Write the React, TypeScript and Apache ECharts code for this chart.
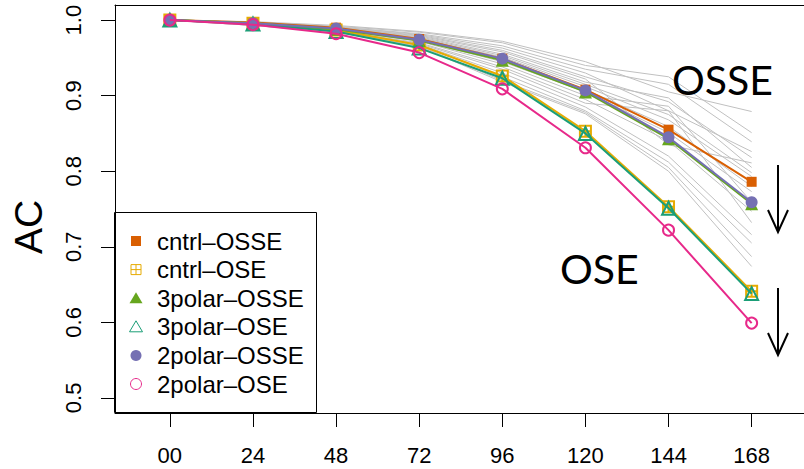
import React, { useEffect, useRef } from "react";
import * as echarts from "echarts";

const hours = ["00", "24", "48", "72", "96", "120", "144", "168"];
const yTicks = [0.5, 0.6, 0.7, 0.8, 0.9, 1.0];

const seriesNames = [
  "cntrl–OSSE",
  "cntrl–OSE",
  "3polar–OSSE",
  "3polar–OSE",
  "2polar–OSSE",
  "2polar–OSE",
];
const seriesColors = ["#D95F02", "#E6AB02", "#66A61E", "#1B9E77", "#7570B3", "#E7298A"];

const cntrlOSSE = [1.0, 0.997, 0.990, 0.975, 0.949, 0.908, 0.855, 0.786];
const cntrlOSE = [1.0, 0.996, 0.987, 0.967, 0.926, 0.853, 0.753, 0.641];
const polar3OSSE = [1.0, 0.996, 0.988, 0.973, 0.947, 0.905, 0.843, 0.757];
const polar3OSE = [1.0, 0.995, 0.985, 0.963, 0.923, 0.850, 0.751, 0.638];
const polar2OSSE = [1.0, 0.996, 0.989, 0.974, 0.949, 0.907, 0.845, 0.759];
const polar2OSE = [1.0, 0.994, 0.982, 0.957, 0.909, 0.831, 0.722, 0.599];

// ensemble members (gray)
const members = [
  [1.0, 0.998, 0.993, 0.985, 0.972, 0.945, 0.905, 0.879],
  [1.0, 0.997, 0.992, 0.984, 0.970, 0.940, 0.925, 0.851],
  [1.0, 0.997, 0.991, 0.982, 0.966, 0.935, 0.915, 0.839],
  [1.0, 0.997, 0.991, 0.981, 0.963, 0.930, 0.880, 0.826],
  [1.0, 0.996, 0.990, 0.980, 0.960, 0.925, 0.892, 0.818],
  [1.0, 0.996, 0.990, 0.979, 0.958, 0.922, 0.835, 0.811],
  [1.0, 0.996, 0.989, 0.978, 0.955, 0.918, 0.897, 0.805],
  [1.0, 0.996, 0.989, 0.977, 0.953, 0.915, 0.875, 0.798],
  [1.0, 0.995, 0.988, 0.976, 0.951, 0.912, 0.868, 0.793],
  [1.0, 0.995, 0.988, 0.975, 0.948, 0.908, 0.859, 0.780],
  [1.0, 0.995, 0.987, 0.973, 0.945, 0.905, 0.851, 0.773],
  [1.0, 0.995, 0.987, 0.972, 0.942, 0.900, 0.886, 0.759],
  [1.0, 0.994, 0.986, 0.970, 0.938, 0.895, 0.840, 0.747],
  [1.0, 0.994, 0.986, 0.969, 0.935, 0.890, 0.880, 0.732],
  [1.0, 0.994, 0.985, 0.968, 0.930, 0.885, 0.820, 0.716],
  [1.0, 0.993, 0.985, 0.967, 0.925, 0.880, 0.812, 0.705],
  [1.0, 0.993, 0.984, 0.966, 0.920, 0.878, 0.805, 0.687],
  [1.0, 0.993, 0.984, 0.965, 0.918, 0.876, 0.800, 0.674],
];

const mainData = [cntrlOSSE, cntrlOSE, polar3OSSE, polar3OSE, polar2OSSE, polar2OSE];

const boxPlus = "path://M0,0L10,0L10,10L0,10Z M5,0L5,10 M0,5L10,5";
const symbols = ["rect", boxPlus, "triangle", "triangle", "circle", "circle"];
const filled = [true, false, true, false, true, false];
const symSizes = [10, 11, 13, 13, 12, 11];

const FONT = "'Liberation Sans', Arial, Helvetica, sans-serif";

export default function App() {
  const ref = useRef<HTMLDivElement>(null);
  useEffect(() => {
    if (!ref.current) return;
    document.body.style.margin = "0";
    const chart = echarts.init(ref.current, undefined, { renderer: "svg" });

    const series: any[] = [];
    members.forEach((m, k) => {
      series.push({
        name: "member" + k,
        type: "line",
        data: m.map((v, i) => [i, v]),
        symbol: "none",
        silent: true,
        lineStyle: { color: "#C0C0C0", width: 1 },
        z: 1,
      });
    });
    mainData.forEach((d, k) => {
      series.push({
        name: seriesNames[k],
        type: "line",
        data: d.map((v, i) => [i, v]),
        symbol: symbols[k],
        symbolSize: symSizes[k],
        showAllSymbol: true,
        lineStyle: { color: seriesColors[k], width: 2 },
        itemStyle: filled[k]
          ? { color: seriesColors[k] }
          : { color: "rgba(0,0,0,0)", borderColor: seriesColors[k], borderWidth: 2 },
        z: 3 + k,
      });
    });

    // legend drawn as graphic
    const lx = 114.5, ly = 212.5, lw = 202, lh = 200;
    const legendEls: any[] = [
      { type: "rect", shape: { x: lx, y: ly, width: lw, height: lh }, style: { fill: "#fff", stroke: "#000", lineWidth: 1 } },
    ];
    const sx = 136, tx = 157, row0 = 241, dy = 28.6;
    seriesNames.forEach((n, k) => {
      const cy = row0 + dy * k;
      const c = seriesColors[k];
      if (k === 0) legendEls.push({ type: "rect", shape: { x: sx - 5, y: cy - 5, width: 10, height: 10 }, style: { fill: c } });
      if (k === 1) {
        legendEls.push({ type: "rect", shape: { x: sx - 5, y: cy - 5, width: 10, height: 10 }, style: { fill: "none", stroke: c, lineWidth: 1 } });
        legendEls.push({ type: "line", shape: { x1: sx, y1: cy - 5, x2: sx, y2: cy + 5 }, style: { stroke: c, lineWidth: 1 } });
        legendEls.push({ type: "line", shape: { x1: sx - 5, y1: cy, x2: sx + 5, y2: cy }, style: { stroke: c, lineWidth: 1 } });
      }
      if (k === 2) legendEls.push({ type: "polygon", shape: { points: [[sx, cy - 6], [sx + 6.5, cy + 5], [sx - 6.5, cy + 5]] }, style: { fill: c } });
      if (k === 3) legendEls.push({ type: "polygon", shape: { points: [[sx, cy - 6], [sx + 6.5, cy + 5], [sx - 6.5, cy + 5]] }, style: { fill: "none", stroke: c, lineWidth: 1 } });
      if (k === 4) legendEls.push({ type: "circle", shape: { cx: sx, cy, r: 5.5 }, style: { fill: c } });
      if (k === 5) legendEls.push({ type: "circle", shape: { cx: sx, cy, r: 5.5 }, style: { fill: "none", stroke: c, lineWidth: 1 } });
      legendEls.push({
        type: "text",
        x: tx,
        y: cy,
        style: { text: n, fill: "#000", font: `24px ${FONT}`, verticalAlign: "middle", align: "left" },
      });
    });

    const arrow = (x: number, y1: number, y2: number, hy: number) => [
      { type: "line", shape: { x1: x, y1, x2: x, y2 }, style: { stroke: "#000", lineWidth: 2 } },
      { type: "polyline", shape: { points: [[x - 10, hy], [x, y2], [x + 10, hy]] }, style: { stroke: "#000", lineWidth: 2, fill: "none" } },
    ];

    chart.setOption({
      animation: false,
      backgroundColor: "#fff",
      grid: { left: 115, top: 5, width: 693, height: 408, containLabel: false },
      xAxis: [
        {
          type: "value",
          min: -0.66,
          max: 7.63,
          axisLine: { show: true, onZero: false, lineStyle: { color: "#000", width: 1 } },
          axisTick: { show: true, customValues: [0, 1, 2, 3, 4, 5, 6, 7], length: 14, lineStyle: { color: "#000", width: 1 } },
          axisLabel: {
            show: true,
            customValues: [0, 1, 2, 3, 4, 5, 6, 7],
            formatter: (v: number) => hours[Math.round(v)],
            fontSize: 22,
            fontFamily: FONT,
            color: "#000",
            margin: 31,
          },
          splitLine: { show: false },
        },
        {
          type: "value",
          position: "top",
          min: -0.66,
          max: 7.63,
          axisLine: { show: true, onZero: false, lineStyle: { color: "#000", width: 1 } },
          axisTick: { show: false },
          axisLabel: { show: false },
          splitLine: { show: false },
        },
      ],
      yAxis: {
        type: "value",
        min: 0.48,
        max: 1.02,
        axisLine: { show: true, onZero: false, lineStyle: { color: "#000", width: 1 } },
        axisTick: { show: true, customValues: yTicks, length: 14, lineStyle: { color: "#000", width: 1 } },
        axisLabel: {
          show: true,
          customValues: yTicks,
          formatter: (v: number) => v.toFixed(1),
          rotate: 90,
          fontSize: 22,
          fontFamily: FONT,
          color: "#000",
          margin: 31,
        },
        splitLine: { show: false },
      },
      series,
      graphic: [
        {
          type: "text",
          x: 28,
          y: 227,
          rotation: Math.PI / 2,
          style: { text: "AC", fill: "#000", font: `39px ${FONT}`, align: "center", verticalAlign: "middle" },
        },
        {
          type: "text",
          x: 672,
          y: 79,
          style: { text: "OSSE", fill: "#000", font: "41px Lato, 'Open Sans', sans-serif", align: "left", verticalAlign: "middle" },
          z: 50,
        },
        {
          type: "text",
          x: 560,
          y: 268,
          style: { text: "OSE", fill: "#000", font: "41px Lato, 'Open Sans', sans-serif", align: "left", verticalAlign: "middle" },
          z: 50,
        },
        ...arrow(778, 165, 232, 210),
        ...arrow(778, 288, 355, 333),
        { type: "group", z: 100, children: legendEls },
      ],
    });
    return () => chart.dispose();
  }, []);
  return <div ref={ref} style={{ width: 804, height: 469 }} />;
}
